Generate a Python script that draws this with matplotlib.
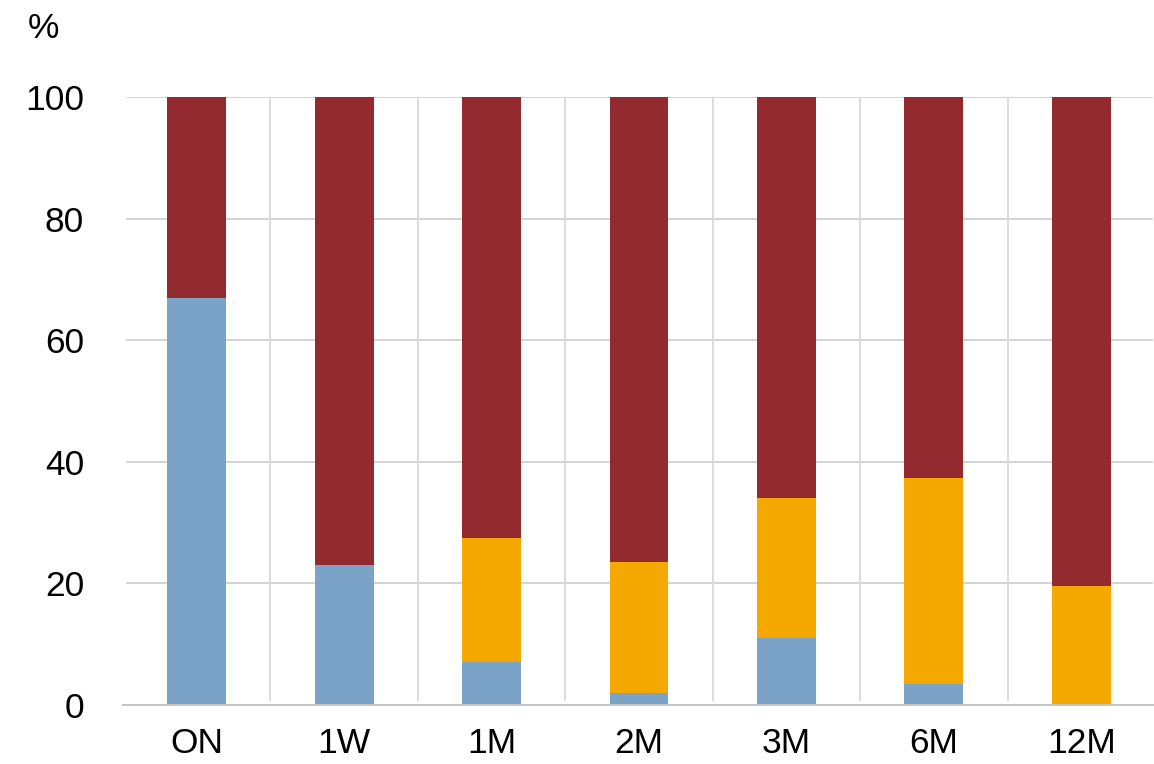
import matplotlib.pyplot as plt
import numpy as np

plt.rcParams['font.family'] = ['Liberation Sans', 'DejaVu Sans']

categories = ['ON', '1W', '1M', '2M', '3M', '6M', '12M']
blue_vals = [67.0, 23.0, 7.0, 2.0, 11.0, 3.5, 0.0]
orange_vals = [0.0, 0.0, 20.5, 21.5, 23.0, 33.8, 19.6]
red_vals = [33.0, 77.0, 72.5, 76.5, 66.0, 62.7, 80.4]

blue = '#7BA3C7'
orange = '#F5A800'
red = '#922A2F'

fig = plt.figure(figsize=(11.54, 7.64), dpi=100)
ax = fig.add_axes([123 / 1154, 59 / 764, 1032 / 1154, 608 / 764])

x = np.arange(len(categories))
w = 0.4
b = np.array(blue_vals)
o = np.array(orange_vals)
r = np.array(red_vals)
ax.bar(x, b, w, color=blue, zorder=3)
ax.bar(x, o, w, bottom=b, color=orange, zorder=3)
ax.bar(x, r, w, bottom=b + o, color=red, zorder=3)

ax.set_xlim(-0.5, len(categories) - 0.5)
ax.set_ylim(0, 100)
ax.set_yticks(range(0, 101, 20))
ax.set_xticks(x)
ax.set_xticklabels(categories)

# gridlines
for yv in range(20, 101, 20):
    ax.axhline(yv, xmin=0.004, xmax=0.997, color='#D0D0D0', lw=1.3, zorder=1)
ax.vlines(x[:-1] + 0.5, 0.7, 100, color='#D9D9D9', lw=1.3, zorder=1)

for s in ['top', 'right', 'left']:
    ax.spines[s].set_visible(False)
ax.spines['bottom'].set_color('#C4C4C4')
ax.spines['bottom'].set_linewidth(1.4)
ax.spines['bottom'].set_zorder(4)

ax.tick_params(axis='both', length=0, labelsize=25.5, colors='black')
ax.tick_params(axis='y', pad=28)
ax.tick_params(axis='x', pad=16)

fig.text(43 / 1154, 1 - 29 / 764, '%', fontsize=25.5, ha='center', va='center')

fig.savefig('out.png', dpi=100)
